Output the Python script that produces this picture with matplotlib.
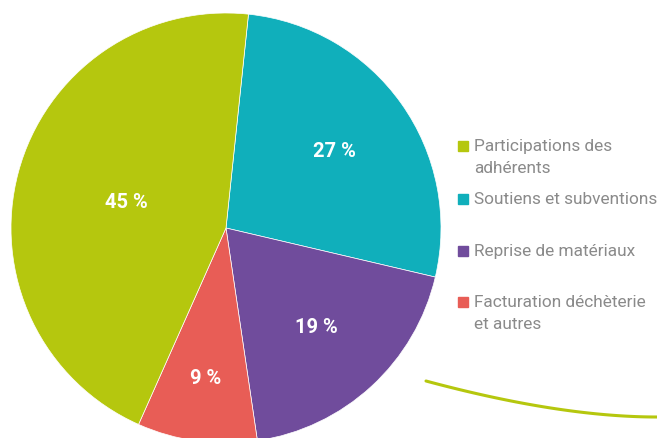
import numpy as np
import matplotlib.pyplot as plt
from matplotlib.patches import Rectangle

# Répartition des recettes (ordre horaire à partir du haut)
categories = ["Soutiens et subventions", "Reprise de matériaux",
              "Facturation déchèterie\net autres", "Participations des\nadhérents"]
values = [27, 19, 9, 45]
colors = ["#10afbb", "#704c9c", "#e85d56", "#b5c70e"]
label_r = [0.62, 0.62, 0.70, 0.48]

# ordre de la légende
legend_order = [3, 0, 1, 2]
legend_y = [147, 200, 252, 303]

plt.rcParams['font.family'] = ['Roboto', 'DejaVu Sans']

W, H = 657, 439
fig = plt.figure(figsize=(W / 100, H / 100), dpi=100)

# camembert
cx, cy, R = 226, 229, 215
ax = fig.add_axes([(cx - R) / W, (H - cy - R) / H, 2 * R / W, 2 * R / H])
wedges, _ = ax.pie(values, colors=colors, startangle=84, counterclock=False,
                   radius=1, wedgeprops=dict(edgecolor="white", linewidth=0.5))
for w, v, r in zip(wedges, values, label_r):
    ang = np.deg2rad((w.theta1 + w.theta2) / 2)
    ax.text(r * np.cos(ang), r * np.sin(ang), f"{v} %", color="white",
            fontsize=14.5, fontweight="bold", ha="center", va="center")
ax.set_xlim(-1, 1)
ax.set_ylim(-1, 1)
ax.set_aspect("equal")
ax.axis("off")

# légende + trait décoratif, en pixels
ov = fig.add_axes([0, 0, 1, 1], zorder=-1)
ov.set_xlim(0, W)
ov.set_ylim(H, 0)
ov.axis("off")
for i, y in zip(legend_order, legend_y):
    ov.add_patch(Rectangle((458, y - 5), 10, 10, color=colors[i]))
    ov.text(474, y - 8, categories[i], color="#8a8a8a", fontsize=12.4,
            va="top", ha="left", linespacing=1.55)

t = np.linspace(0, 1, 100)
p0, p1, p2 = np.array([426, 382]), np.array([560, 418]), np.array([657, 418])
curve = ((1 - t) ** 2)[:, None] * p0 + (2 * (1 - t) * t)[:, None] * p1 + (t ** 2)[:, None] * p2
ov.plot(curve[:, 0], curve[:, 1], color="#b5c70e", lw=2.2, solid_capstyle="round")

fig.savefig("out.png", dpi=100)
